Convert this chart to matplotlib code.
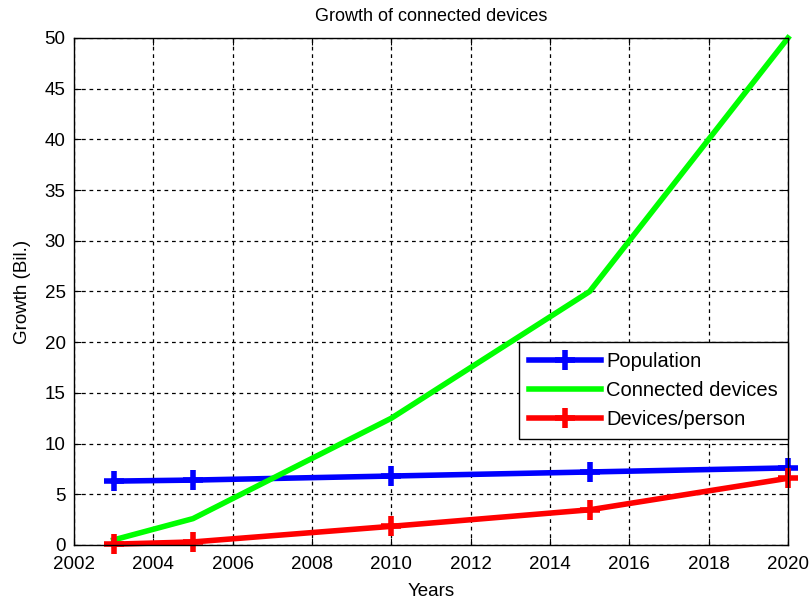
import numpy as np
import matplotlib.pyplot as plt

years = [2003, 2005, 2010, 2015, 2020]
population = [6.3, 6.4, 6.8, 7.2, 7.6]
connected = [0.5, 2.6, 12.5, 25, 50]
per_person = [0.08, 0.3, 1.84, 3.47, 6.58]

plt.rcParams['font.family'] = ['Liberation Sans', 'DejaVu Sans']

fig = plt.figure(figsize=(8.11, 6.01), dpi=100)
ax = fig.add_axes([0.0912, 0.0932, 0.8804, 0.8436])

ax.plot(years, population, color='#0000ff', lw=4, marker='+', ms=15, mew=4, label='Population', clip_on=False)
ax.plot(years, connected, color='#00ff00', lw=4, label='Connected devices', clip_on=False)
ax.plot(years, per_person, color='#ff0000', lw=4, marker='+', ms=15, mew=4, label='Devices/person', clip_on=False)

ax.set_xlim(2002, 2020)
ax.set_ylim(0, 50)
ax.set_xticks(np.arange(2002, 2021, 2))
ax.set_yticks(np.arange(0, 51, 5))
ax.tick_params(direction='in', labelsize=13.5, length=5, top=True, right=True, colors='black')
ax.tick_params(axis='x', pad=8)
ax.tick_params(axis='y', pad=6)
ax.grid(True, color='black', linestyle=(0, (3, 3)), linewidth=0.9)
for s in ax.spines.values():
    s.set_linewidth(1)

ax.set_title('Growth of connected devices', fontsize=13, pad=12)
ax.set_xlabel('Years', fontsize=13.5, labelpad=7)
ax.set_ylabel('Growth (Bil.)', fontsize=13.5, labelpad=10)

leg = ax.legend(loc='upper right', bbox_to_anchor=(1.0, 0.4), fontsize=14.5,
                fancybox=False, framealpha=1, edgecolor='black', handlelength=3.6,
                borderaxespad=0, labelspacing=0.5, handletextpad=0.25, borderpad=0.5)
leg.get_frame().set_linewidth(1)

fig.savefig('out.png', dpi=100)
